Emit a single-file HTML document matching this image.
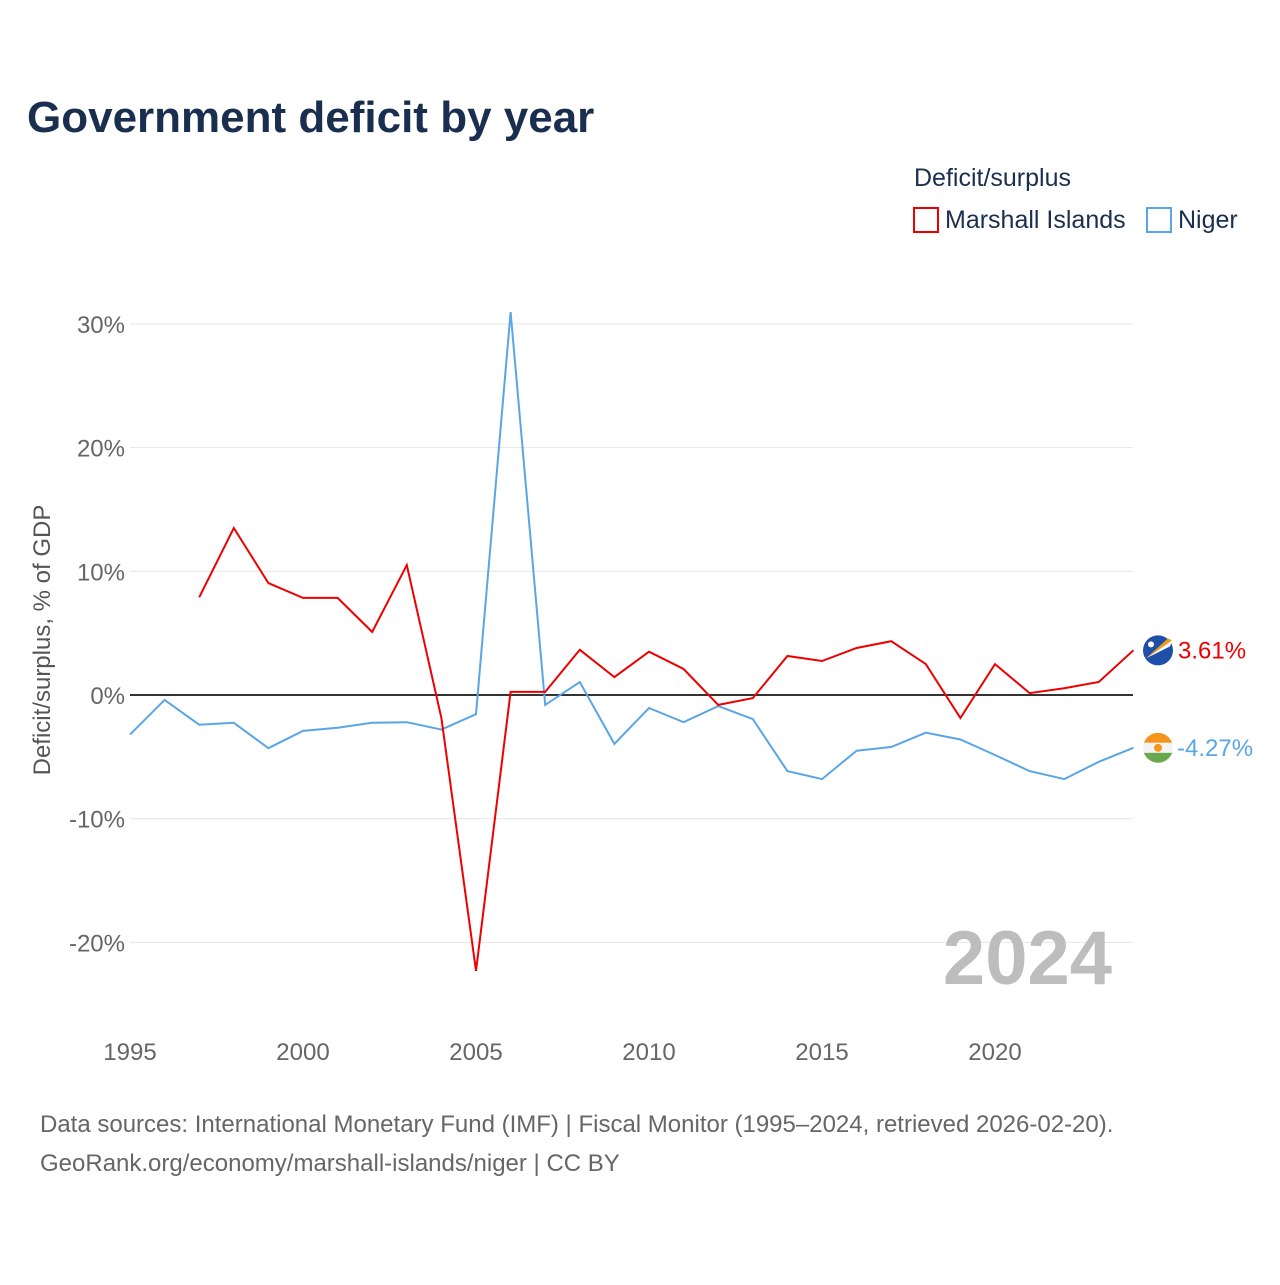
<!DOCTYPE html>
<html><head><meta charset="utf-8">
<style>
body{margin:0;background:#fff;}
svg text{font-family:"Liberation Sans",sans-serif;}
</style></head>
<body>
<svg id="chart" width="1280" height="1280" xmlns="http://www.w3.org/2000/svg">
<text x="27" y="132" font-size="44" font-weight="bold" fill="#1a2e4f">Government deficit by year</text>
<text x="914" y="186" font-size="25" fill="#1a2e4f">Deficit/surplus</text>
<g>
<rect x="914" y="208" width="24" height="24" fill="none" stroke="#ee0000" stroke-width="2"/>
<text x="945" y="228" font-size="25" fill="#1a2e4f">Marshall Islands</text></g>
<g>
<rect x="1147" y="208" width="24" height="24" fill="none" stroke="#5aa5e6" stroke-width="2"/>
<text x="1178" y="228" font-size="25" fill="#1a2e4f">Niger</text></g>
<text transform="translate(50,640) rotate(-90)" text-anchor="middle" font-size="24" fill="#555">Deficit/surplus, % of GDP</text>
<g id="grid"></g>
<text x="1112" y="984" text-anchor="end" font-size="76" font-weight="bold" fill="#bdbdbd">2024</text>
<g id="series"></g>
<text x="40" y="1132" font-size="24" fill="#666">Data sources: International Monetary Fund (IMF) | Fiscal Monitor (1995–2024, retrieved 2026-02-20).</text>
<text x="40" y="1171" font-size="24" fill="#666">GeoRank.org/economy/marshall-islands/niger | CC BY</text>
</svg>
<script>
const years=[];for(let y=1995;y<=2024;y++)years.push(y);
const marshall=[null,null,7.9,13.5,9.05,7.85,7.85,5.1,10.5,-1.86,-22.3,0.25,0.25,3.65,1.45,3.5,2.1,-0.8,-0.25,3.15,2.75,3.8,4.35,2.5,-1.86,2.5,0.15,0.55,1.05,3.61];
const niger=[-3.2,-0.4,-2.4,-2.25,-4.3,-2.9,-2.65,-2.25,-2.2,-2.8,-1.55,30.95,-0.8,1.05,-3.95,-1.05,-2.2,-0.9,-1.95,-6.15,-6.8,-4.5,-4.2,-3.05,-3.6,-4.85,-6.15,-6.8,-5.4,-4.27];
const yTicks=[-20,-10,0,10,20,30];
const xTicks=[1995,2000,2005,2010,2015,2020];
const NS="http://www.w3.org/2000/svg";
const X=y=>130+(y-1995)*34.6;
const Y=v=>695-v*12.37;
function mk(t,a,p){const e=document.createElementNS(NS,t);for(const k in a)e.setAttribute(k,a[k]);p.appendChild(e);return e;}
const grid=document.getElementById('grid');
yTicks.forEach(v=>{
 const l=mk('line',{x1:130,x2:1133,y1:Y(v),y2:Y(v),stroke:v===0?'#333':'#e6e6e6','stroke-width':v===0?2:1},grid);
 
 
 const t=mk('text',{x:125,y:Y(v)+9,'text-anchor':'end','font-size':24,fill:'#666'},grid);
 t.textContent=v+'%';
 
 
});
xTicks.forEach(y=>{
 const t=mk('text',{x:X(y),y:1060,'text-anchor':'middle','font-size':24,fill:'#666'},grid);
 t.textContent=y;
 
 
});
const s=document.getElementById('series');
function line(data,color,name){
 let d='';data.forEach((v,i)=>{if(v===null)return;d+=(d?'L':'M')+X(years[i]).toFixed(1)+','+Y(v).toFixed(1);});
 const p=mk('path',{d:d,fill:'none',stroke:color,'stroke-width':2},s);
 
 
}
line(niger,'#5aa5e6','niger-line');
line(marshall,'#ee0000','marshall-islands-line');
// end labels
const lm=marshall[marshall.length-1], ln=niger[niger.length-1];
const f1=mk('g',{},s);


mk('circle',{cx:1158,cy:Y(lm),r:15,fill:'#1f4fa8'},f1);
mk('path',{d:`M1146,${Y(lm)+8} L1172,${Y(lm)-10} L1170,${Y(lm)-4} Z`,fill:'#fff'},f1);
mk('path',{d:`M1146,${Y(lm)+8} L1172,${Y(lm)-10} L1168,${Y(lm)-12} Z`,fill:'#f39c12'},f1);
mk('circle',{cx:1151,cy:Y(lm)-6,r:3,fill:'#fff'},f1);
const t1=mk('text',{x:1178,y:Y(lm)+8,'font-size':24,fill:'#ee0000'},s);
t1.textContent=lm.toFixed(2)+'%';


const f2=mk('g',{},s);


const cy=Y(ln);
mk('clipPath',{id:'nc'},f2).appendChild(Object.assign(document.createElementNS(NS,'circle'),{}));
f2.querySelector('clipPath circle').setAttribute('cx',1158);
f2.querySelector('clipPath circle').setAttribute('cy',cy);
f2.querySelector('clipPath circle').setAttribute('r',15);
const gg=mk('g',{'clip-path':'url(#nc)'},f2);
mk('rect',{x:1143,y:cy-15,width:30,height:10,fill:'#f7941d'},gg);
mk('rect',{x:1143,y:cy-5,width:30,height:10,fill:'#f4f4f4'},gg);
mk('rect',{x:1143,y:cy+5,width:30,height:10,fill:'#6aa84f'},gg);
mk('circle',{cx:1158,cy:cy,r:4,fill:'#f7941d'},gg);
const t2=mk('text',{x:1177,y:cy+8,'font-size':24,fill:'#5aa5e6'},s);
t2.textContent=ln.toFixed(2)+'%';


</script>
</body></html>
